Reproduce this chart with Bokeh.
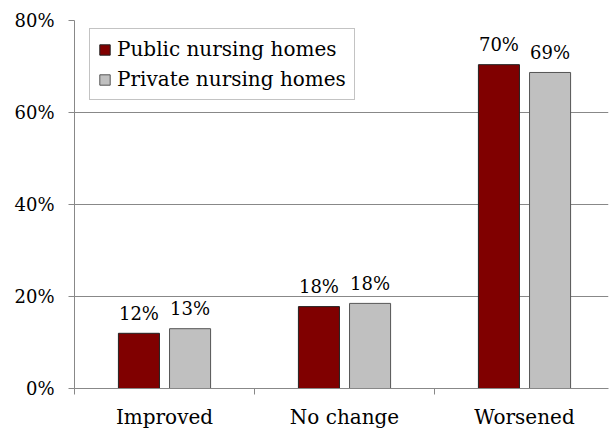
from bokeh.plotting import figure
from bokeh.models import ColumnDataSource, Range1d, FixedTicker, NumeralTickFormatter, Legend, LegendItem
from bokeh.core.properties import value
from bokeh.embed import file_html
from bokeh.resources import INLINE

categories = ["Improved", "No change", "Worsened"]
public_vals = [0.12, 0.178, 0.704]
private_vals = [0.13, 0.185, 0.687]
public_labels = ["12%", "18%", "70%"]
private_labels = ["13%", "18%", "69%"]
series_names = ["Public nursing homes", "Private nursing homes"]

FONT = "DejaVu Serif"
C_PUB = "#800000"
C_PRI = "#C0C0C0"

centers = [i + 0.5 for i in range(len(categories))]
off = 0.142
bw = 0.228

src_pub = ColumnDataSource(dict(x=[c - off for c in centers], top=public_vals, lab=public_labels))
src_pri = ColumnDataSource(dict(x=[c + off for c in centers], top=private_vals, lab=private_labels))

W, H = 610, 432
p = figure(width=W, height=H, output_backend="svg", toolbar_location=None,
           x_range=Range1d(0, (W - 2 - 74) / 180.0), y_range=Range1d(0, 0.8),
           min_border_left=74, min_border_top=20, min_border_bottom=H - 388, min_border_right=2)
p.outline_line_color = None
p.background_fill_color = "white"
p.border_fill_color = "white"

r1 = p.vbar(x="x", top="top", width=bw, source=src_pub, fill_color=C_PUB, line_color="#222222", line_width=1)
r2 = p.vbar(x="x", top="top", width=bw, source=src_pri, fill_color=C_PRI, line_color="#555555", line_width=1)

for s in (src_pub, src_pri):
    p.text(x="x", y="top", text="lab", source=s, text_align="center", text_baseline="alphabetic",
           y_offset=-20, text_font=value(FONT), text_font_size="18px", text_color="black")

# y axis
p.yaxis.ticker = FixedTicker(ticks=[0, 0.2, 0.4, 0.6, 0.8])
p.yaxis.formatter = NumeralTickFormatter(format="0%")
p.yaxis.major_label_text_font = FONT
p.yaxis.major_label_text_font_size = "18px"
p.yaxis.major_label_text_color = "black"
p.yaxis.axis_line_color = "#888888"
p.yaxis.major_tick_line_color = "#888888"
p.yaxis.major_tick_out = 6
p.yaxis.major_tick_in = 0
p.yaxis.minor_tick_line_color = None
p.yaxis.major_label_standoff = 14

# x axis
p.xaxis.ticker = FixedTicker(ticks=centers, minor_ticks=[0, 1, 2, 3])
p.xaxis.major_label_overrides = {c: n for c, n in zip(centers, categories)}
p.xaxis.major_label_text_font = FONT
p.xaxis.major_label_text_font_size = "20px"
p.xaxis.major_label_text_color = "black"
p.xaxis.axis_line_color = "#888888"
p.xaxis.major_tick_line_color = None
p.xaxis.minor_tick_line_color = "#888888"
p.xaxis.minor_tick_out = 6
p.xaxis.minor_tick_in = 0
p.xaxis.major_tick_out = 6
p.xaxis.major_tick_in = 0
p.xaxis.major_label_standoff = 10

p.xgrid.grid_line_color = None
p.ygrid.grid_line_color = "#888888"
p.ygrid.ticker = FixedTicker(ticks=[0.2, 0.4, 0.6, 0.8])

legend = Legend(items=[LegendItem(label=series_names[0], renderers=[r1]),
                       LegendItem(label=series_names[1], renderers=[r2])],
                location=(15, 288))
legend.label_text_font = FONT
legend.label_text_font_size = "20px"
legend.label_text_color = "black"
legend.glyph_width = 13
legend.glyph_height = 13
legend.label_standoff = 6
legend.spacing = 6
legend.padding = 8
legend.margin = 0
legend.border_line_color = "#888888"
legend.background_fill_alpha = 1
p.add_layout(legend, "center")

open("out.html", "w").write(file_html(p, INLINE))
